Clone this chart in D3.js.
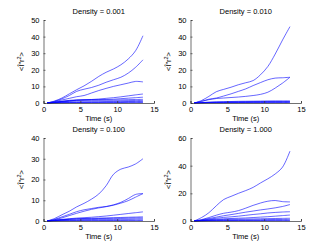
<!DOCTYPE html>
<html>
<head>
<script src="https://d3js.org/d3.v7.min.js"></script>
<style>
  body { margin: 0; background: #fff; }
  text { font-family: "Liberation Sans", Arial, sans-serif; fill: #000; }
</style>
</head>
<body>
<svg id="chart" width="332" height="250"></svg>
<script>
// sample times (s)
var times = [0.5, 1.5, 2.5, 3.5, 4.5, 5.5, 6.5, 7.5, 8.5, 9.5, 10.5, 11.5, 12.5, 13.5];

var titles = ["Density = 0.001", "Density = 0.010", "Density = 0.100", "Density = 1.000"];
var yMaxes = [50, 50, 40, 60];
var yTickSteps = [10, 10, 10, 20];
var xTicks = [0, 5, 10, 15];

// <dr^2> curves, one array of series per panel
var msd001 = [
  [0, 1.2, 3, 5.5, 8, 10.3, 13, 16, 18.5, 20.5, 23, 26.5, 31.5, 40.5],
  [0, 1, 2.5, 4.5, 7, 8.3, 9.3, 10.7, 12.5, 14, 15.5, 18, 21.5, 26],
  [0, 0.8, 1.8, 2.8, 3.8, 4.5, 6, 7.5, 8.8, 10, 11, 12, 13, 12.7],
  [0, 0.4, 0.9, 1.3, 1.7, 1.9, 2.1, 2.4, 2.8, 3.2, 3.7, 4.3, 4.9, 5.4],
  [0, 0.4, 0.9, 1.3, 1.6, 1.8, 1.9, 2.0, 2.1, 2.3, 2.6, 2.9, 3.2, 3.5],
  [0, 0.5, 1.1, 1.6, 1.9, 2.0, 2.0, 1.9, 1.8, 1.8, 1.9, 2.0, 2.1, 2.2],
  [0, 0.3, 0.7, 1.0, 1.2, 1.3, 1.3, 1.3, 1.2, 1.2, 1.3, 1.4, 1.5, 1.5],
  [0, 0.2, 0.4, 0.5, 0.6, 0.7, 0.7, 0.7, 0.8, 0.8, 0.8, 0.9, 0.9, 0.9],
  [0, 0.1, 0.2, 0.3, 0.3, 0.3, 0.4, 0.4, 0.4, 0.4, 0.4, 0.5, 0.5, 0.5],
  [0, 0.05, 0.1, 0.1, 0.15, 0.15, 0.2, 0.2, 0.2, 0.2, 0.2, 0.2, 0.2, 0.2]
];
var msd010 = [
  [0, 1.5, 4, 6.8, 8.2, 9.5, 11, 12.2, 13.5, 17, 22, 29.5, 38, 46],
  [0, 1, 2.3, 3, 4.2, 5.5, 7, 8.5, 10.5, 12.3, 14, 15, 15.2, 15.5],
  [0, 1, 2, 2.7, 3, 3.3, 3.6, 4, 4.5, 5.2, 6.5, 9, 12, 15.5],
  [0, 0.3, 0.5, 0.7, 0.8, 0.9, 1, 1.05, 1.1, 1.15, 1.2, 1.2, 1.2, 1.2],
  [0, 0.2, 0.4, 0.5, 0.6, 0.7, 0.75, 0.8, 0.85, 0.9, 0.95, 1, 1, 1],
  [0, 0.15, 0.3, 0.35, 0.4, 0.45, 0.5, 0.55, 0.6, 0.6, 0.65, 0.7, 0.7, 0.7],
  [0, 0.1, 0.15, 0.2, 0.25, 0.3, 0.3, 0.3, 0.35, 0.35, 0.4, 0.4, 0.4, 0.4],
  [0, 0.05, 0.1, 0.1, 0.1, 0.12, 0.15, 0.15, 0.15, 0.15, 0.15, 0.2, 0.2, 0.2]
];
var msd100 = [
  [0, 1.2, 3, 4.7, 6.8, 8.5, 10.5, 13, 17, 22.5, 25, 26, 27.5, 30],
  [0, 0.8, 2, 3.2, 4.5, 5.4, 6, 6.6, 7, 7.8, 9, 10.8, 12.8, 13.2],
  [0, 0.6, 1.5, 2.6, 3.7, 4.7, 5.6, 6.3, 6.9, 7.6, 8.6, 9.8, 11.5, 13.2],
  [0, 0.4, 0.8, 1.1, 1.4, 1.6, 1.8, 2.1, 2.4, 2.8, 3.2, 3.6, 4, 4.4],
  [0, 0.3, 0.6, 0.9, 1.1, 1.2, 1.3, 1.4, 1.5, 1.6, 1.7, 1.8, 1.9, 2],
  [0, 0.3, 0.6, 0.8, 1.0, 1.1, 1.1, 1.2, 1.2, 1.3, 1.3, 1.4, 1.5, 1.5],
  [0, 0.2, 0.4, 0.5, 0.6, 0.7, 0.7, 0.8, 0.8, 0.8, 0.9, 0.9, 1, 1],
  [0, 0.1, 0.2, 0.3, 0.3, 0.35, 0.4, 0.4, 0.4, 0.4, 0.45, 0.5, 0.5, 0.5],
  [0, 0.05, 0.1, 0.1, 0.15, 0.15, 0.2, 0.2, 0.2, 0.2, 0.2, 0.2, 0.2, 0.2]
];
var msd1000 = [
  [0, 2.5, 6, 11, 15.5, 17.8, 20, 22, 24.3, 27.5, 30.5, 34, 39, 50.5],
  [0, 1, 2.5, 4.2, 5.6, 6.4, 7.5, 9.3, 11.3, 13, 14.3, 14.8, 14, 13.8],
  [0, 0.8, 1.8, 2.8, 3.8, 4.6, 5.5, 6.4, 7.2, 8, 8.7, 9.5, 10.5, 11.9],
  [0, 0.5, 1.3, 2, 2.6, 3, 3.5, 4.1, 4.7, 5.2, 5.8, 6.2, 6.5, 6.7],
  [0, 0.4, 0.9, 1.3, 1.6, 1.8, 2, 2.2, 2.5, 2.8, 3.1, 3.5, 3.9, 4.3],
  [0, 0.3, 0.6, 0.9, 1.1, 1.2, 1.3, 1.4, 1.5, 1.6, 1.7, 1.8, 1.9, 2],
  [0, 0.2, 0.4, 0.5, 0.6, 0.7, 0.8, 0.8, 0.9, 0.9, 1, 1.1, 1.1, 1.2],
  [0, 0.1, 0.2, 0.3, 0.3, 0.35, 0.4, 0.4, 0.4, 0.45, 0.5, 0.5, 0.5, 0.5],
  [0, 0.05, 0.1, 0.1, 0.15, 0.15, 0.2, 0.2, 0.2, 0.2, 0.2, 0.2, 0.2, 0.2]
];
var panelData = [msd001, msd010, msd100, msd1000];

// panel placement
var cols = [43.5, 190.5];
var rows = [20, 138];
var pw = 110.5, ph = 83;

var svg = d3.select("#chart");

panelData.forEach(function(series, i) {
  var left = cols[i % 2], top = rows[Math.floor(i / 2)];
  var g = svg.append("g").attr("transform", "translate(" + left + "," + top + ")");

  var x = d3.scaleLinear().domain([0, 15]).range([0, pw]);
  var y = d3.scaleLinear().domain([0, yMaxes[i]]).range([ph, 0]);

  var line = d3.line()
    .x(function(d, k) { return x(times[k]); })
    .y(function(d) { return y(d); })
    .curve(d3.curveCatmullRom);

  g.selectAll("path.msd")
    .data(series)
    .enter().append("path")
    .attr("class", "msd")
    .attr("d", line)
    .attr("fill", "none")
    .attr("stroke", "#0000ff")
    .attr("stroke-width", 0.6);

  // MATLAB style axes: ticks pointing inward
  var xAxis = g.append("g").attr("transform", "translate(0," + ph + ")")
    .call(d3.axisBottom(x).tickValues(xTicks).tickSize(-2).tickPadding(4));
  var yAxis = g.append("g")
    .call(d3.axisLeft(y).tickValues(d3.range(0, yMaxes[i] + 1, yTickSteps[i])).tickSize(-2).tickPadding(4));

  [xAxis, yAxis].forEach(function(a) {
    a.select(".domain").attr("stroke", "#333").attr("stroke-width", 0.7);
    a.selectAll(".tick line").attr("stroke", "#333").attr("stroke-width", 0.7);
    a.selectAll("text").style("font-family", "Liberation Sans, Arial, sans-serif").style("font-size", "7.5px");
  });

  g.append("text")
    .attr("x", pw / 2).attr("y", -6)
    .attr("text-anchor", "middle")
    .style("font-size", "7.5px")
    .text(titles[i]);

  g.append("text")
    .attr("x", pw / 2).attr("y", ph + 17.5)
    .attr("text-anchor", "middle")
    .style("font-size", "7.5px")
    .text("Time (s)");

  var yl = g.append("text")
    .attr("transform", "translate(-20," + (ph / 2) + ") rotate(-90)")
    .attr("text-anchor", "middle")
    .style("font-size", "7.5px");
  yl.append("tspan").text("<Δr");
  yl.append("tspan").attr("dy", -3).style("font-size", "5.5px").text("2");
  yl.append("tspan").attr("dy", 3).text(">");
});
</script>
</body>
</html>
